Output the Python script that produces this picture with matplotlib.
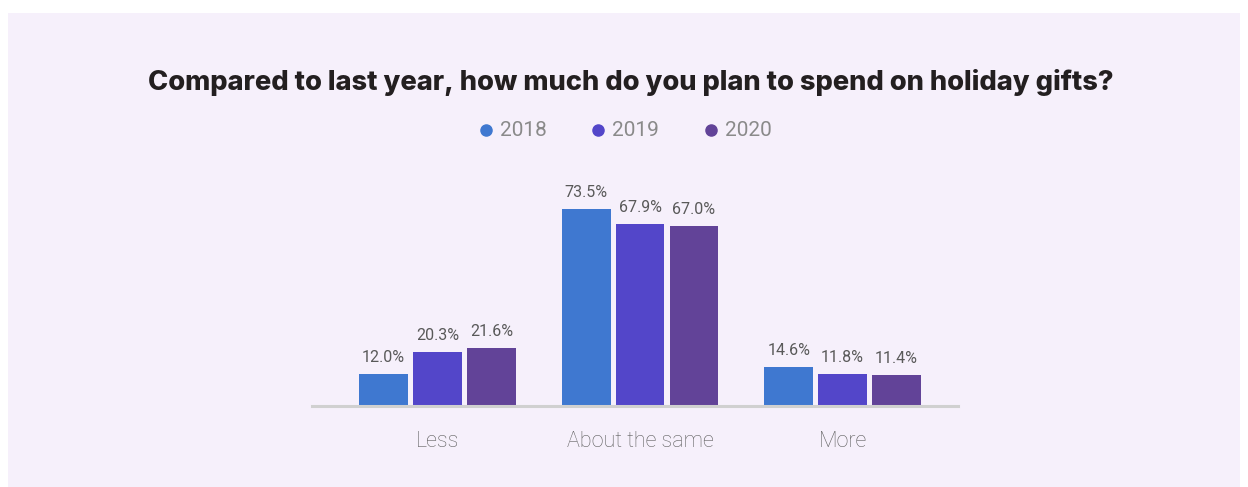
import numpy as np
import matplotlib
matplotlib.use("Agg")
from matplotlib import pyplot as plt
from matplotlib.patches import Rectangle

categories = ['Less', 'About the same', 'More']
years = ['2018', '2019', '2020']
share_2018 = [12.0, 73.5, 14.6]
share_2019 = [20.3, 67.9, 11.8]
share_2020 = [21.6, 67.0, 11.4]

colors = ['#3F78D0', '#5346C9', '#624398']
bg = '#F6F0FB'

W, H = 1248, 487
fig = plt.figure(figsize=(W / 100, H / 100), dpi=100)
fig.patch.set_facecolor('white')

# lavender card behind everything
fig.patches.append(Rectangle((8 / W, 0), 1232 / W, (H - 13) / H,
                             transform=fig.transFigure, facecolor=bg,
                             edgecolor='none', zorder=-5))


def px(x0, y0, x1, y1):
    # pixel box (top-left origin) -> figure fraction rect
    return [x0 / W, 1 - y1 / H, (x1 - x0) / W, (y1 - y0) / H]


ax = fig.add_axes(px(312, 150, 958, 406))
ax.set_facecolor('none')
ax.set_zorder(2)

x = np.arange(len(categories))
width = 0.241
step = 0.266
series = [share_2018, share_2019, share_2020]
for i, (vals, c) in enumerate(zip(series, colors)):
    pos = x + (i - 1) * step
    bars = ax.bar(pos, vals, width, color=c, zorder=2)
    for b, v in zip(bars, vals):
        ax.annotate(f'{v:.1f}%', (b.get_x() + b.get_width() / 2, v),
                    xytext=(0, 9), textcoords='offset pixels',
                    ha='center', va='bottom', fontsize=11.5,
                    family='Roboto', color='#595959')

ax.set_xlim(-0.62, 2.57)
ax.set_ylim(0, 73.5 / (406 - 209) * (406 - 150))
for s in ['top', 'right', 'left']:
    ax.spines[s].set_visible(False)
ax.spines['bottom'].set_color('#D0D0D0')
ax.spines['bottom'].set_linewidth(2.2)
ax.set_yticks([])
ax.set_xticks(x)
ax.set_xticklabels(categories, fontsize=15.5, family='Roboto',
                   fontweight='light', color='#5f5f5f')
ax.tick_params(axis='x', length=0, pad=18)

fig.text(631 / W, 1 - 82 / H,
         'Compared to last year, how much do you plan to spend on holiday gifts?',
         ha='center', va='center', fontsize=19.6, fontweight='heavy',
         family='Inter', color='#231F20')

# legend: dots + year labels
dot_x = [486, 598, 711]
for dx, yr, c in zip(dot_x, years, colors):
    fig.lines.append(plt.Line2D([dx / W], [1 - 130 / H], marker='o',
                                markersize=8, color=c, linestyle='none',
                                transform=fig.transFigure))
    fig.text((dx + 14) / W, 1 - 131 / H, yr, ha='left', va='center',
             fontsize=15, family='Roboto', color='#8a8a8a')

fig.savefig('out.png', dpi=100, facecolor=fig.get_facecolor())
